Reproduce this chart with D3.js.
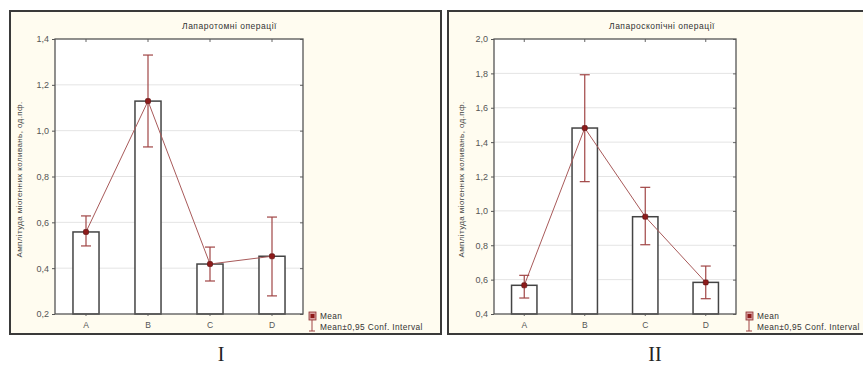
<!DOCTYPE html>
<html><head><meta charset="utf-8">
<script src="https://cdn.jsdelivr.net/npm/d3@7/dist/d3.min.js"></script>
<style>
body{margin:0;background:#fff;}
svg text{font-family:"Liberation Sans",Arial,sans-serif;}
</style></head>
<body><svg id="c" width="863" height="367"></svg>
<script>
// ---- data ----
const categories = ["A","B","C","D"];
// Panel I: Лапаротомні операції
const meanI  = [0.558, 1.129, 0.418, 0.452];
const lowI   = [0.497, 0.929, 0.344, 0.279];
const highI  = [0.628, 1.330, 0.492, 0.623];
const ticksI = [0.2,0.4,0.6,0.8,1.0,1.2,1.4];
// Panel II: Лапароскопічні операції
const meanII  = [0.567, 1.482, 0.966, 0.584];
const lowII   = [0.493, 1.170, 0.803, 0.489];
const highII  = [0.625, 1.792, 1.137, 0.679];
const ticksII = [0.4,0.6,0.8,1.0,1.2,1.4,1.6,1.8,2.0];
const titles = ["Лапаротомні операції","Лапароскопічні операції"];
const yLabel = "Амплітуда міогенних коливань, од.пф.";
const romans = ["I","II"];
const legendLabels = ["Mean","Mean±0,95 Conf. Interval"];

const svg = d3.select("#c");
const fmt = d => d3.format(".1f")(d).replace(".", ",");

const panels = [
  {frame:[10,11,441,334], plot:[55,39,303,314], mean:meanI, low:lowI, high:highI, ticks:ticksI, title:titles[0], roman:romans[0], ylx:22, legx:312, romx:221},
  {frame:[448,11,868,334], plot:[494,39,736,314], mean:meanII, low:lowII, high:highII, ticks:ticksII, title:titles[1], roman:romans[1], ylx:464, legx:749, romx:655}
];

const lineCol = "#a85a5a", errCol = "#a04545", mkFill = "#8e1b1b", mkStroke="#5a0d0d";

panels.forEach(p => {
  const [fx0,fy0,fx1,fy1] = p.frame;
  const [px0,py0,px1,py1] = p.plot;
  const g = svg.append("g");
  g.append("rect").attr("x",fx0).attr("y",fy0).attr("width",fx1-fx0).attr("height",fy1-fy0)
    .attr("fill","#fffcf0").attr("stroke","#3a3a3a").attr("stroke-width",2);
  g.append("rect").attr("x",px0).attr("y",py0).attr("width",px1-px0).attr("height",py1-py0)
    .attr("fill","#ffffff");

  const y = d3.scaleLinear().domain([p.ticks[0], p.ticks[p.ticks.length-1]]).range([py1,py0]);
  const x = d3.scaleBand().domain(categories).range([px0,px1]).padding(0);
  const bw = x.bandwidth()*0.42;
  const cx = c => x(c)+x.bandwidth()/2;

  // gridlines
  g.append("g").selectAll("line").data(p.ticks.slice(1,-1)).join("line")
    .attr("x1",px0).attr("x2",px1).attr("y1",d=>y(d)).attr("y2",d=>y(d))
    .attr("stroke","#e4e4e4").attr("stroke-width",1);

  // bars
  g.append("g").selectAll("rect").data(categories).join("rect")
    .attr("x",c=>cx(c)-bw/2).attr("width",bw)
    .attr("y",(c,i)=>y(p.mean[i])).attr("height",(c,i)=>py1-y(p.mean[i]))
    .attr("fill","#fff").attr("stroke","#444").attr("stroke-width",1.5);

  // axes
  const left = d3.axisLeft(y).tickValues(p.ticks).tickFormat(fmt).tickSize(3).tickPadding(3);
  const ga = g.append("g").attr("transform",`translate(${px0},0)`).call(left);
  ga.select(".domain").remove();
  ga.selectAll("line").attr("stroke","#555");
  ga.selectAll("text").attr("font-size",9).attr("fill","#555");
  const right = d3.axisLeft(y).tickValues(p.ticks).tickFormat("").tickSize(3);
  const gr = g.append("g").attr("transform",`translate(${px1},0)`).call(right);
  gr.select(".domain").remove(); gr.selectAll("line").attr("stroke","#666");
  const top = d3.axisBottom(x).tickFormat("").tickSize(3);
  const gt = g.append("g").attr("transform",`translate(0,${py0})`).call(top);
  gt.select(".domain").remove(); gt.selectAll("line").attr("stroke","#666");
  const bottom = d3.axisBottom(x).tickSize(2).tickPadding(6);
  const gb = g.append("g").attr("transform",`translate(0,${py1})`).call(bottom);
  gb.select(".domain").remove(); gb.selectAll("line").attr("stroke","#666");
  gb.selectAll("text").attr("font-size",8.5).attr("fill","#555");

  // plot border
  g.append("rect").attr("x",px0).attr("y",py0).attr("width",px1-px0).attr("height",py1-py0)
    .attr("fill","none").attr("stroke","#555").attr("stroke-width",1.3);

  // mean line
  const line = d3.line().x((d,i)=>cx(categories[i])).y(d=>y(d));
  g.append("path").datum(p.mean).attr("d",line).attr("fill","none")
    .attr("stroke",lineCol).attr("stroke-width",1);

  // error bars
  const eg = g.append("g").attr("stroke",errCol).attr("stroke-width",1.2);
  categories.forEach((c,i)=>{
    const X = cx(c);
    eg.append("line").attr("x1",X).attr("x2",X).attr("y1",y(p.low[i])).attr("y2",y(p.high[i]));
    eg.append("line").attr("x1",X-5).attr("x2",X+5).attr("y1",y(p.low[i])).attr("y2",y(p.low[i]));
    eg.append("line").attr("x1",X-5).attr("x2",X+5).attr("y1",y(p.high[i])).attr("y2",y(p.high[i]));
  });

  // markers
  g.append("g").selectAll("rect").data(categories).join("rect")
    .attr("x",c=>cx(c)-2.5).attr("y",(c,i)=>y(p.mean[i])-2.5).attr("width",5).attr("height",5)
    .attr("rx",1.2).attr("fill",mkFill).attr("stroke",mkStroke).attr("stroke-width",0.6);

  // title
  g.append("text").attr("x",(fx0+fx1)/2+4).attr("y",29).attr("text-anchor","middle")
    .attr("font-size",8.5).attr("letter-spacing",0.5).attr("fill","#333").text(p.title);
  // y label
  g.append("text").attr("transform",`translate(${p.ylx},${(py0+py1)/2+3}) rotate(-90)`)
    .attr("text-anchor","middle").attr("font-size",8).attr("letter-spacing",0.4).attr("fill","#444").text(yLabel);

  // legend
  const lx = p.legx;
  g.append("rect").attr("x",lx-3).attr("y",312).attr("width",7).attr("height",8)
    .attr("fill","#d9a0a0").attr("stroke","#8e3030").attr("stroke-width",0.8);
  g.append("rect").attr("x",lx-1.5).attr("y",314).attr("width",4).attr("height",4).attr("fill",mkFill);
  const lg = g.append("g").attr("stroke",errCol).attr("stroke-width",1);
  lg.append("line").attr("x1",lx).attr("x2",lx).attr("y1",320).attr("y2",331);
  lg.append("line").attr("x1",lx-3).attr("x2",lx+3).attr("y1",331).attr("y2",331);
  g.append("text").attr("x",lx+8).attr("y",319).attr("font-size",8.3).attr("letter-spacing",0.4).attr("fill","#333").text(legendLabels[0]);
  g.append("text").attr("x",lx+8).attr("y",329.5).attr("font-size",8.3).attr("letter-spacing",0.4).attr("fill","#333").text(legendLabels[1]);

  // roman numeral
  svg.append("text").attr("x",p.romx).attr("y",361).attr("text-anchor","middle")
    .attr("font-size",20).attr("fill","#222")
    .style("font-family","'Liberation Serif','DejaVu Serif',serif").text(p.roman);
});
</script></body></html>
